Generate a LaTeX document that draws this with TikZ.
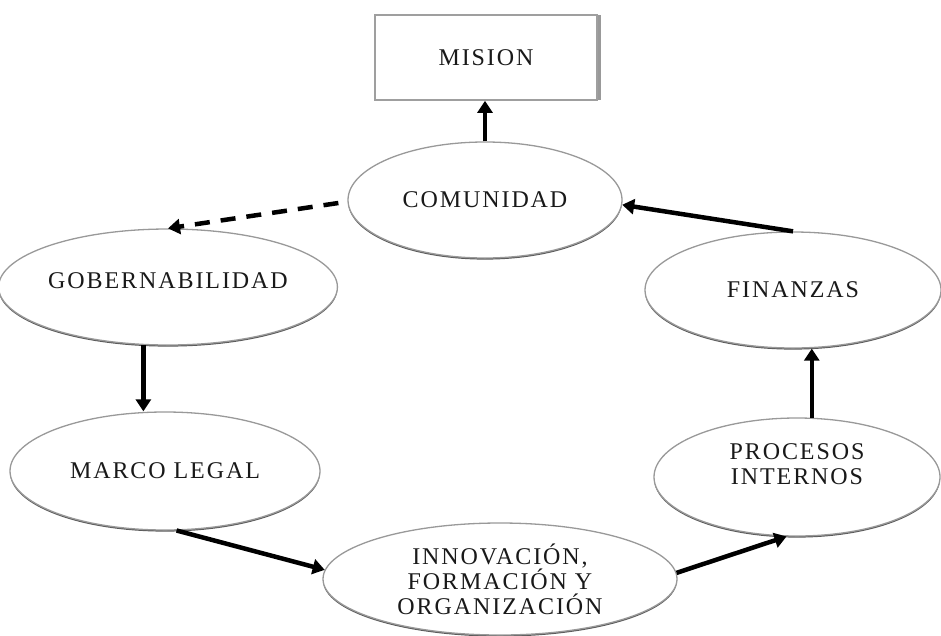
\documentclass[tikz,border=0pt]{standalone}
\usepackage{fontspec}
\newfontfamily\lblfont{Liberation Serif}[LetterSpace=8]
\usetikzlibrary{arrows.meta,shapes.geometric,shadows}
\begin{document}
\begin{tikzpicture}[x=1pt,y=-1pt,
  every node/.style={font=\lblfont\fontsize{24}{25}\selectfont, text=black!90, align=center, inner sep=0pt},
  bubble/.style={ellipse, draw=gray!80, line width=1.3pt, fill=white,
    drop shadow={shadow xshift=0pt, shadow yshift=-1.6pt, fill=black!65, opacity=1}},
  goalbox/.style={rectangle, draw=gray!75, line width=1.6pt, fill=white,
    drop shadow={shadow xshift=3.5pt, shadow yshift=0pt, fill=gray!80, opacity=1}},
  link/.style={line width=4.5pt, draw=black, -{Triangle[length=12pt,width=15pt]}},
  dashlink/.style={link, dashed, dash pattern=on 15pt off 11pt}]
\useasboundingbox (0,0) rectangle (941,635);

% goal on top, strategy perspectives arranged around it
\node[goalbox, minimum width=222pt, minimum height=85pt] (mis) at (486,57.5) {MISION};
\node[bubble, minimum width=274pt, minimum height=116pt] (com) at (485,200) {COMUNIDAD};
\node[bubble, minimum width=314pt, minimum height=116pt] (gob) at (168,287) {GOBERNABILIDAD\\[-12pt]\mbox{}};
\node[bubble, minimum width=296pt, minimum height=116pt] (fin) at (793,290) {FINANZAS};
\node[bubble, minimum width=310pt, minimum height=118pt] (ml) at (165,471) {MARCO LEGAL};
\node[bubble, minimum width=286pt, minimum height=118pt] (proc) at (797,477) {PROCESOS\\INTERNOS\\\mbox{}};
\node[bubble, minimum width=354pt, minimum height=112pt] (inn) at (500,579) {INNOVACIÓN,\\FORMACIÓN Y\\ORGANIZACIÓN};

% cycle of influences
\draw[link] (com.north) -- (com.north |- mis.south);
\draw[link] (fin.north) -- (com.-2);
\draw[dashlink] ([shift={(-9pt,-3pt)}]com.west) -- (gob.north);
\draw[link] (gob.-113) -- (gob.-113 |- ml.north);
\draw[link] (ml.-79) -- (inn.177);
\draw[link] (inn.2) -- (proc.-100);
\draw[link] (proc.76) -- (proc.76 |- fin.south);
\end{tikzpicture}
\end{document}
